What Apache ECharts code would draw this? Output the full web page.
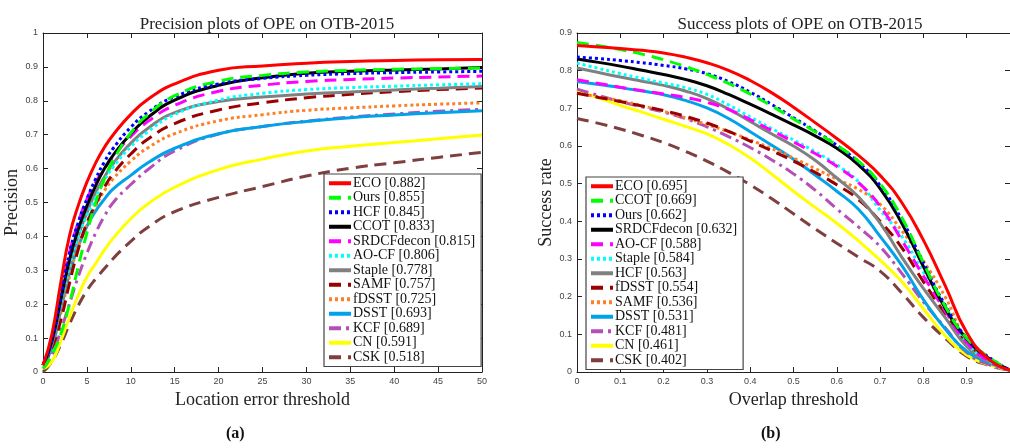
<!DOCTYPE html>
<html>
<head>
<meta charset="utf-8">
<script src="https://cdn.jsdelivr.net/npm/echarts@6/dist/echarts.min.js"></script>
<style>
  html, body { margin: 0; padding: 0; background: #fff; }
  #chart { width: 1010px; height: 448px; }
</style>
</head>
<body>
<div id="chart"></div>
<script>
// x positions of the two plots
var precX = [0, 1, 2, 3, 4, 5, 6, 7, 8, 10, 12, 15, 20, 25, 30, 35, 40, 45, 50];
var succX = [0, 0.05, 0.1, 0.15, 0.2, 0.25, 0.3, 0.35, 0.4, 0.45, 0.5, 0.55, 0.6, 0.65, 0.7, 0.75, 0.8, 0.85, 0.9, 0.95, 1];

// (a) precision plot, legend order
var precNames = ['ECO [0.882]', 'Ours [0.855]', 'HCF [0.845]', 'CCOT [0.833]', 'SRDCFdecon [0.815]', 'AO-CF [0.806]',
  'Staple [0.778]', 'SAMF [0.757]', 'fDSST [0.725]', 'DSST [0.693]', 'KCF [0.689]', 'CN [0.591]', 'CSK [0.518]'];
var precECO = [0.02, 0.11, 0.26, 0.40, 0.49, 0.56, 0.617, 0.663, 0.70, 0.76, 0.805, 0.85, 0.89, 0.903, 0.911, 0.916, 0.919, 0.921, 0.922];
var precOurs = [0.01, 0.05, 0.11, 0.20, 0.31, 0.41, 0.50, 0.57, 0.625, 0.705, 0.76, 0.815, 0.858, 0.875, 0.885, 0.89, 0.893, 0.895, 0.897];
var precHCF = [0.02, 0.09, 0.22, 0.35, 0.44, 0.51, 0.57, 0.62, 0.66, 0.722, 0.767, 0.812, 0.85, 0.866, 0.875, 0.88, 0.883, 0.885, 0.887];
var precCCOT = [0.02, 0.09, 0.21, 0.33, 0.42, 0.49, 0.55, 0.60, 0.64, 0.703, 0.752, 0.802, 0.846, 0.868, 0.881, 0.887, 0.891, 0.894, 0.898];
var precSRDCF = [0.02, 0.10, 0.23, 0.35, 0.44, 0.51, 0.56, 0.60, 0.635, 0.695, 0.74, 0.787, 0.828, 0.846, 0.857, 0.863, 0.867, 0.87, 0.873];
var precAOCF = [0.02, 0.09, 0.20, 0.31, 0.40, 0.46, 0.515, 0.565, 0.605, 0.665, 0.71, 0.76, 0.802, 0.822, 0.833, 0.839, 0.843, 0.847, 0.85];
var precStaple = [0.02, 0.08, 0.19, 0.31, 0.40, 0.47, 0.53, 0.575, 0.615, 0.675, 0.72, 0.765, 0.798, 0.811, 0.82, 0.826, 0.832, 0.837, 0.842];
var precSAMF = [0.02, 0.07, 0.15, 0.26, 0.36, 0.44, 0.495, 0.545, 0.585, 0.643, 0.688, 0.733, 0.773, 0.794, 0.809, 0.819, 0.827, 0.833, 0.838];
var precFDSST = [0.02, 0.08, 0.17, 0.28, 0.37, 0.435, 0.49, 0.535, 0.57, 0.622, 0.662, 0.703, 0.741, 0.759, 0.772, 0.779, 0.785, 0.79, 0.794];
var precDSST = [0.02, 0.07, 0.18, 0.29, 0.37, 0.43, 0.475, 0.51, 0.54, 0.58, 0.618, 0.66, 0.703, 0.724, 0.739, 0.75, 0.758, 0.765, 0.771];
var precKCF = [0.01, 0.05, 0.12, 0.2, 0.28, 0.35, 0.41, 0.46, 0.5, 0.553, 0.598, 0.652, 0.702, 0.724, 0.74, 0.752, 0.761, 0.769, 0.775];
var precCN = [0.01, 0.03, 0.09, 0.16, 0.225, 0.28, 0.32, 0.36, 0.395, 0.452, 0.497, 0.545, 0.597, 0.628, 0.652, 0.666, 0.677, 0.688, 0.699];
var precCSK = [0.0, 0.03, 0.08, 0.14, 0.195, 0.24, 0.275, 0.305, 0.335, 0.385, 0.428, 0.473, 0.515, 0.547, 0.578, 0.601, 0.617, 0.633, 0.648];

// (b) success plot, legend order
var succNames = ['ECO [0.695]', 'CCOT [0.669]', 'Ours [0.662]', 'SRDCFdecon [0.632]', 'AO-CF [0.588]', 'Staple [0.584]',
  'HCF [0.563]', 'fDSST [0.554]', 'SAMF [0.536]', 'DSST [0.531]', 'KCF [0.481]', 'CN [0.461]', 'CSK [0.402]'];
var succECO = [0.867, 0.863, 0.859, 0.854, 0.847, 0.836, 0.821, 0.801, 0.774, 0.741, 0.703, 0.662, 0.62, 0.575, 0.522, 0.45, 0.35, 0.23, 0.105, 0.035, 0.005];
var succCCOT = [0.875, 0.866, 0.856, 0.844, 0.829, 0.811, 0.79, 0.766, 0.738, 0.706, 0.672, 0.638, 0.602, 0.56, 0.5, 0.41, 0.29, 0.175, 0.09, 0.04, 0.005];
var succOurs = [0.836, 0.832, 0.827, 0.821, 0.814, 0.805, 0.792, 0.771, 0.743, 0.71, 0.675, 0.64, 0.602, 0.557, 0.495, 0.405, 0.29, 0.178, 0.09, 0.04, 0.005];
var succSRDCF = [0.831, 0.822, 0.812, 0.801, 0.79, 0.777, 0.76, 0.737, 0.711, 0.684, 0.656, 0.627, 0.594, 0.55, 0.487, 0.395, 0.28, 0.17, 0.088, 0.037, 0.005];
var succAOCF = [0.776, 0.766, 0.756, 0.747, 0.738, 0.729, 0.716, 0.697, 0.67, 0.641, 0.611, 0.58, 0.546, 0.503, 0.44, 0.35, 0.255, 0.163, 0.078, 0.03, 0.005];
var succStaple = [0.82, 0.806, 0.792, 0.779, 0.767, 0.755, 0.737, 0.709, 0.677, 0.646, 0.616, 0.585, 0.55, 0.505, 0.43, 0.36, 0.265, 0.175, 0.078, 0.03, 0.005];
var succHCF = [0.807, 0.795, 0.783, 0.772, 0.761, 0.746, 0.726, 0.698, 0.665, 0.632, 0.6, 0.562, 0.515, 0.465, 0.395, 0.305, 0.222, 0.145, 0.068, 0.028, 0.005];
var succFDSST = [0.74, 0.729, 0.718, 0.706, 0.694, 0.679, 0.661, 0.639, 0.613, 0.587, 0.56, 0.53, 0.497, 0.458, 0.40, 0.33, 0.24, 0.155, 0.075, 0.03, 0.005];
var succSAMF = [0.74, 0.73, 0.72, 0.707, 0.692, 0.675, 0.657, 0.638, 0.616, 0.593, 0.568, 0.54, 0.512, 0.485, 0.445, 0.375, 0.295, 0.2, 0.085, 0.035, 0.005];
var succDSST = [0.771, 0.763, 0.755, 0.746, 0.736, 0.721, 0.701, 0.673, 0.638, 0.602, 0.565, 0.523, 0.48, 0.432, 0.36, 0.283, 0.192, 0.115, 0.055, 0.025, 0.005];
var succKCF = [0.751, 0.734, 0.718, 0.704, 0.69, 0.673, 0.651, 0.625, 0.596, 0.563, 0.526, 0.483, 0.433, 0.385, 0.333, 0.262, 0.186, 0.118, 0.052, 0.02, 0.005];
var succCN = [0.747, 0.728, 0.708, 0.69, 0.671, 0.652, 0.632, 0.604, 0.568, 0.525, 0.48, 0.437, 0.395, 0.348, 0.297, 0.24, 0.168, 0.097, 0.045, 0.02, 0.005];
var succCSK = [0.673, 0.66, 0.645, 0.628, 0.609, 0.586, 0.56, 0.53, 0.497, 0.46, 0.42, 0.38, 0.342, 0.305, 0.268, 0.21, 0.145, 0.09, 0.042, 0.018, 0.005];

var precValues = [precECO, precOurs, precHCF, precCCOT, precSRDCF, precAOCF, precStaple, precSAMF, precFDSST, precDSST, precKCF, precCN, precCSK];
var succValues = [succECO, succCCOT, succOurs, succSRDCF, succAOCF, succStaple, succHCF, succFDSST, succSAMF, succDSST, succKCF, succCN, succCSK];

// colour / dash by rank (same in both plots)
var rankColors = ['#ff0000', '#00ff00', '#0000ff', '#000000', '#ff00ff', '#00ffff', '#808080', '#990000', '#ff7f27', '#00a2e8', '#b54fb5', '#ffff00', '#7f3f3f'];
var rankDash = ['solid', [12, 7], [3, 3], 'solid', [12, 7], [3, 3], 'solid', [12, 7], [3, 3], 'solid', [12, 5, 3, 5], 'solid', [12, 7]];

var serif = 'Liberation Serif';
var sans = 'Liberation Sans';

function makeSeries(names, values, xs, idx) {
  var out = [];
  // lower ranks first so the best trackers sit on top
  for (var i = names.length - 1; i >= 0; i--) {
    var pts = [];
    for (var j = 0; j < xs.length; j++) pts.push([xs[j], values[i][j]]);
    out.push({
      name: names[i],
      type: 'line',
      xAxisIndex: idx,
      yAxisIndex: idx,
      symbol: 'none',
      smooth: 0.5,
      color: rankColors[i],
      lineStyle: { width: 3, color: rankColors[i], type: rankDash[i], cap: 'butt' },
      data: pts
    });
  }
  return out;
}

function mainX(idx, min, max, interval, name, showMax) {
  return {
    type: 'value', gridIndex: idx, min: min, max: max, interval: interval,
    name: name, nameLocation: 'middle', nameGap: 11,
    nameTextStyle: { fontFamily: serif, fontSize: 18, color: '#222' },
    axisLine: { lineStyle: { color: '#222', width: 1 } },
    axisTick: { inside: true, length: 5, lineStyle: { color: '#222' } },
    axisLabel: { fontFamily: sans, fontSize: 9, color: '#444', margin: 5, showMaxLabel: showMax },
    splitLine: { show: false }
  };
}
function mirrorX(idx, min, max, interval) {
  return {
    type: 'value', gridIndex: idx, position: 'top', min: min, max: max, interval: interval,
    axisLine: { onZero: false, lineStyle: { color: '#222', width: 1 } },
    axisTick: { inside: true, length: 5, lineStyle: { color: '#222' } },
    axisLabel: { show: false }, splitLine: { show: false }
  };
}
function mainY(idx, max, name, gap) {
  return {
    type: 'value', gridIndex: idx, min: 0, max: max, interval: 0.1,
    name: name, nameLocation: 'middle', nameGap: gap,
    nameTextStyle: { fontFamily: serif, fontSize: 18, color: '#222' },
    axisLine: { show: true, lineStyle: { color: '#222', width: 1 } },
    axisTick: { show: true, inside: true, length: 5, lineStyle: { color: '#222' } },
    axisLabel: { fontFamily: sans, fontSize: 9, color: '#444', margin: 5 },
    splitLine: { show: false }
  };
}
function mirrorY(idx, max) {
  return {
    type: 'value', gridIndex: idx, position: 'right', min: 0, max: max, interval: 0.1,
    axisLine: { show: true, onZero: false, lineStyle: { color: '#222', width: 1 } },
    axisTick: { show: true, inside: true, length: 5, lineStyle: { color: '#222' } },
    axisLabel: { show: false }, splitLine: { show: false }
  };
}
function makeLegend(names, left, top) {
  return {
    orient: 'vertical', left: left, top: top,
    data: names,
    itemWidth: 22, itemHeight: 4, itemGap: 0,
    padding: [2, 6, 2, 3],
    itemStyle: { opacity: 0 },
    lineStyle: { width: 4 },
    backgroundColor: '#fff', borderColor: '#444', borderWidth: 1.2, borderRadius: 0,
    textStyle: { fontFamily: serif, fontSize: 14, lineHeight: 14.5, color: '#111', padding: [0, 0, 0, -3] },
    selectedMode: false
  };
}

var myChart = echarts.init(document.getElementById('chart'));
var option = {
  animation: false,
  backgroundColor: '#fff',
  title: [
    { text: 'Precision plots of OPE on OTB-2015', left: 262, top: 11, textAlign: 'center',
      textStyle: { fontFamily: serif, fontSize: 17, fontWeight: 'normal', color: '#222' } },
    { text: 'Success plots of OPE on OTB-2015', left: 795, top: 11, textAlign: 'center',
      textStyle: { fontFamily: serif, fontSize: 17, fontWeight: 'normal', color: '#222' } }
  ],
  grid: [
    { left: 43, right: 528, top: 33, bottom: 76 },
    { left: 577, right: 0, top: 33, bottom: 76 }
  ],
  xAxis: [
    mainX(0, 0, 50, 5, 'Location error threshold', true),
    mainX(1, 0, 1, 0.1, 'Overlap threshold', false),
    mirrorX(0, 0, 50, 5),
    mirrorX(1, 0, 1, 0.1)
  ],
  yAxis: [
    mainY(0, 1, 'Precision', 17),
    mainY(1, 0.9, 'Success rate', 18),
    mirrorY(0, 1),
    mirrorY(1, 0.9)
  ],
  legend: [
    makeLegend(precNames, 324, 174),
    makeLegend(succNames, 586, 177)
  ],
  graphic: [
    { type: 'text', left: 226, top: 426, style: { text: '(a)', font: 'bold 16px "Liberation Serif"', fill: '#111' } },
    { type: 'text', left: 761, top: 426, style: { text: '(b)', font: 'bold 16px "Liberation Serif"', fill: '#111' } }
  ],
  series: makeSeries(precNames, precValues, precX, 0).concat(makeSeries(succNames, succValues, succX, 1))
};
myChart.setOption(option);
window.onresize = myChart.resize;
</script>
</body>
</html>
